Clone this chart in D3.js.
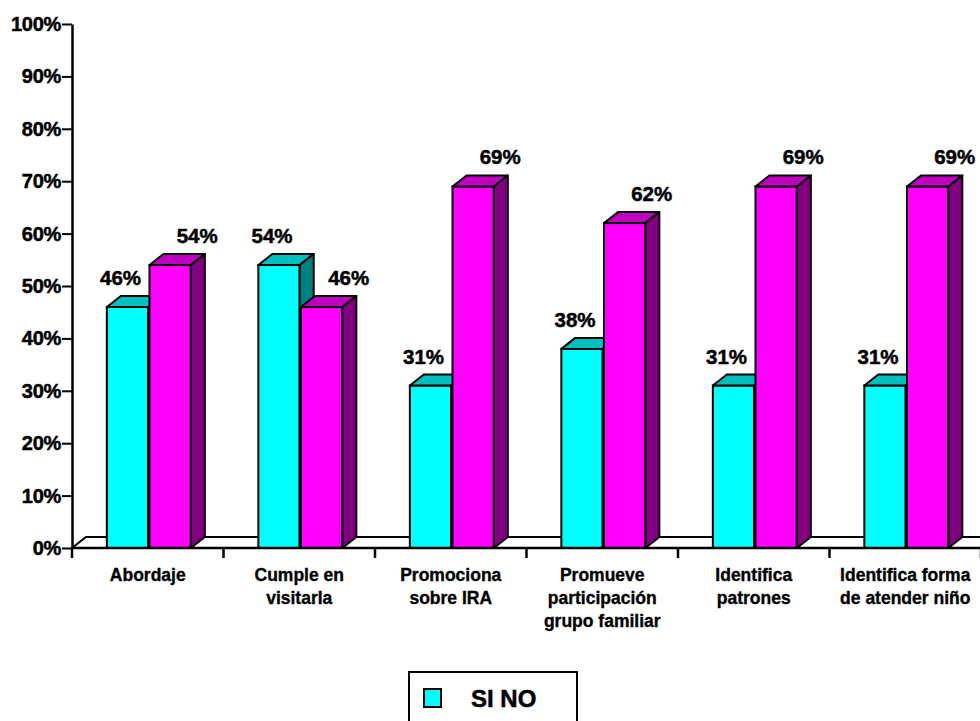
<!DOCTYPE html>
<html>
<head>
<meta charset="utf-8">
<script src="https://cdn.jsdelivr.net/npm/d3@7"></script>
<style>
  html, body { margin: 0; padding: 0; background: #fff; }
  svg { display: block; font-family: "Liberation Sans", Arial, Helvetica, sans-serif; font-weight: bold; }
</style>
</head>
<body>
<svg id="chart" width="980" height="721"></svg>
<script>
const categories = [
  ["Abordaje"],
  ["Cumple en", "visitarla"],
  ["Promociona", "sobre IRA"],
  ["Promueve", "participación", "grupo familiar"],
  ["Identifica", "patrones"],
  ["Identifica forma", "de atender niño"]
];
const seriesNames = ["SI", "NO"];
const siValues = [0.46, 0.54, 0.31, 0.38, 0.31, 0.31];
const noValues = [0.54, 0.46, 0.69, 0.62, 0.69, 0.69];
const yTicks = [0, 0.1, 0.2, 0.3, 0.4, 0.5, 0.6, 0.7, 0.8, 0.9, 1.0];
const legendText = "SI NO";

const svg = d3.select("#chart");
const catKeys = categories.map(c => c.join(" "));

const x = d3.scaleBand().domain(catKeys).range([72, 981]);
const y = d3.scaleLinear().domain([0, 1]).range([548, 24]);
const bw = x.bandwidth();
const inner = d3.scaleBand().domain(seriesNames).range([bw * 0.23, bw * 0.23 + 84]).paddingInner(0.03);
const barW = inner.bandwidth();
const DX = 14, DY = -11;

const colors = {
  SI: { front: "#00FFFF", top: "#00BFBF", side: "#008080" },
  NO: { front: "#FF00FF", top: "#BF00BF", side: "#800080" }
};

// Floor
const y0 = y(0);
svg.append("path")
  .attr("d", `M${x.range()[0]},${y0} L${x.range()[0] + DX},${y0 + DY} L995,${y0 + DY} L995,${y0} Z`)
  .attr("fill", "#fff").attr("stroke", "#000").attr("stroke-width", 2);

// Bars
const data = [];
catKeys.forEach((k, i) => {
  data.push({ cat: k, s: "SI", v: siValues[i] });
  data.push({ cat: k, s: "NO", v: noValues[i] });
});

const g = svg.append("g");
data.forEach(d => {
  const x0 = x(d.cat) + inner(d.s);
  const x1 = x0 + barW;
  const yt = y(d.v);
  const c = colors[d.s];
  const bar = g.append("g");
  bar.append("rect").attr("x", x0).attr("y", yt).attr("width", barW).attr("height", y0 - yt)
    .attr("fill", c.front).attr("stroke", "#000").attr("stroke-width", 2);
  bar.append("path")
    .attr("d", `M${x0},${yt} L${x0 + DX},${yt + DY} L${x1 + DX},${yt + DY} L${x1},${yt} Z`)
    .attr("fill", c.top).attr("stroke", "#000").attr("stroke-width", 2).attr("stroke-linejoin", "round");
  bar.append("path")
    .attr("d", `M${x1},${yt} L${x1 + DX},${yt + DY} L${x1 + DX},${y0 + DY} L${x1},${y0} Z`)
    .attr("fill", c.side).attr("stroke", "#000").attr("stroke-width", 2).attr("stroke-linejoin", "round");
});

// Value labels
const fmt = d3.format(".0%");
svg.append("g").selectAll("text").data(data).join("text")
  .attr("x", d => x(d.cat) + inner(d.s) + barW / 2 + (d.s === "SI" ? -7 : 27))
  .attr("y", d => y(d.v) - 22)
  .attr("text-anchor", "middle")
  .attr("font-size", 20.5)
  .attr("fill", "#000").attr("stroke", "#000").attr("stroke-width", 0.5)
  .text(d => fmt(d.v));

// Y axis
const yAxis = d3.axisLeft(y).tickValues(yTicks).tickFormat(fmt).tickSize(10).tickSizeOuter(0).tickPadding(1);
const ya = svg.append("g").attr("transform", "translate(72,0)").call(yAxis);
ya.select(".domain").attr("stroke", "#000").attr("stroke-width", 2.5);
ya.selectAll(".tick line").attr("stroke", "#000").attr("stroke-width", 2);
ya.selectAll(".tick text").attr("font-size", 20).attr("font-weight", "bold")
  .attr("font-family", "Liberation Sans, Arial, sans-serif").attr("fill", "#000")
  .attr("stroke", "#000").attr("stroke-width", 0.5).attr("letter-spacing", -0.3);

// X axis line and ticks at category boundaries
const xa = svg.append("g");
xa.append("line").attr("x1", 72).attr("x2", 981).attr("y1", y0).attr("y2", y0)
  .attr("stroke", "#000").attr("stroke-width", 2.5);
const bounds = catKeys.map(k => x(k)).concat([x.range()[1]]);
xa.selectAll("line.tick").data(bounds).join("line").attr("class", "tick")
  .attr("x1", d => d).attr("x2", d => d).attr("y1", y0).attr("y2", y0 + 10)
  .attr("stroke", "#000").attr("stroke-width", 2.5);

const cl = xa.selectAll("text.cat").data(categories).join("text").attr("class", "cat")
  .attr("text-anchor", "middle").attr("font-size", 17.5).attr("fill", "#000")
  .attr("stroke", "#000").attr("stroke-width", 0.35);
cl.each(function (lines, i) {
  const cx = x(catKeys[i]) + bw / 2;
  d3.select(this).selectAll("tspan").data(lines).join("tspan")
    .attr("x", cx).attr("y", (d, j) => 581 + j * 23).text(d => d);
});

// Legend
const lg = svg.append("g");
lg.append("rect").attr("x", 409).attr("y", 672).attr("width", 168).attr("height", 60)
  .attr("fill", "#fff").attr("stroke", "#000").attr("stroke-width", 2);
lg.append("rect").attr("x", 424).attr("y", 689).attr("width", 17).attr("height", 18)
  .attr("fill", colors.SI.front).attr("stroke", "#000").attr("stroke-width", 2);
lg.append("text").attr("x", 471).attr("y", 707).attr("font-size", 24).attr("fill", "#000")
  .attr("stroke", "#000").attr("stroke-width", 0.5).text(legendText);
</script>
</body>
</html>
